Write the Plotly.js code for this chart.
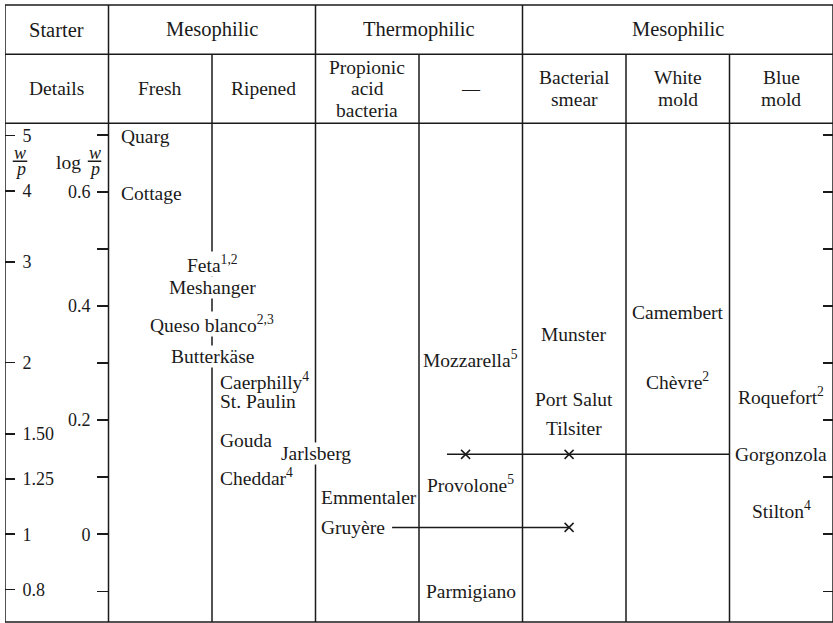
<!DOCTYPE html>
<html><head><meta charset="utf-8">
<script src="https://cdn.plot.ly/plotly-3.0.1.min.js"></script>
<style>html,body{margin:0;padding:0;background:#fff}</style>
</head><body><div id="chart" style="width:833px;height:623px"></div>
<script>
// ---------- data ----------
const starterLabels = ["Starter", "Mesophilic", "Thermophilic", "Mesophilic"];
const starterFirstCol = [0, 1, 3, 5];
const starterLastCol = [0, 2, 4, 7];
const detailLabels = ["Details", "Fresh", "Ripened", "Propionic<br>acid<br>bacteria", "—",
                      "Bacterial<br>smear", "White<br>mold", "Blue<br>mold"];
const cheeseNames = ["Quarg", "Cottage", "Feta<sup>1,2</sup>", "Meshanger", "Queso blanco<sup>2,3</sup>",
  "Butterkäse", "Caerphilly<sup>4</sup>", "St. Paulin", "Gouda", "Jarlsberg", "Cheddar<sup>4</sup>",
  "Emmentaler", "Gruyère", "Mozzarella<sup>5</sup>", "Provolone<sup>5</sup>", "Parmigiano",
  "Munster", "Port Salut", "Tilsiter", "Camembert", "Chèvre<sup>2</sup>", "Roquefort<sup>2</sup>",
  "Gorgonzola", "Stilton<sup>4</sup>"];
// column index (x.5 = on the border between two columns)
const cheeseColumn = [1, 1, 1.5, 1.5, 1.5, 1.5, 2, 2, 2, 2.5, 2, 3, 3, 4, 4, 4, 5, 5, 5, 6, 6, 7, 7, 7];
const cheeseLogWP = [0.698, 0.598, 0.474, 0.432, 0.368, 0.311, 0.268, 0.232, 0.165, 0.142, 0.100,
  0.065, 0.012, 0.307, 0.088, -0.100, 0.351, 0.237, 0.186, 0.389, 0.268, 0.242, 0.140, 0.042];
const wpTickValues = [5, 4, 3, 2, 1.5, 1.25, 1, 0.8];
const wpTickLabels = ["5", "4", "3", "2", "1.50", "1.25", "1", "0.8"];
const logTickValues = [0.7, 0.6, 0.5, 0.4, 0.3, 0.2, 0.1, 0, -0.1];
const logTickLabels = ["", "0.6", "", "0.4", "", "0.2", "", "0", ""];
const linkCheese = ["Gruyère", "Gorgonzola"];
const linkLogWP = [0.012, 0.140];
const linkMarkerCols = [[5], [4, 5]];
const linkLabelCol = [3, 7];

// ---------- style ----------
const FONT = "Liberation Serif";
const FS = 19.5;
const FS_HEAD = 20.5;
const FS_TICK = 18;
const INK = "#1a1a1a";
const LW = 1.5;
const PLOT_TOP = 0.8083;   // paper y of top of the plot area
const ROW1_BOTTOM = 0.9201;
const LINE_GAP = 21.7;     // px between stacked header lines

const shapes = [];
const line = (x0, y0, x1, y1, xref, yref) => shapes.push({type: "line", x0, y0, x1, y1, xref, yref,
  line: {color: INK, width: LW}});
// outer frame and header rows
line(0, 1, 8, 1, "x", "paper");
line(0, 0, 8, 0, "x", "paper");
line(0, 0, 0, 1, "x", "paper");
line(8, 0, 8, 1, "x", "paper");
line(0, ROW1_BOTTOM, 8, ROW1_BOTTOM, "x", "paper");
line(0, PLOT_TOP, 8, PLOT_TOP, "x", "paper");
for (let c = 1; c < 8; c++) {
  const full = starterFirstCol.includes(c);
  line(c, 0, c, full ? 1 : ROW1_BOTTOM, "x", "paper");
}

const annotations = [];
const txt = (o) => annotations.push(Object.assign({showarrow: false, yanchor: "middle",
  font: {family: FONT, size: FS, color: INK}, borderpad: 0}, o));

starterLabels.forEach((s, i) => txt({text: s, xref: "x", yref: "paper", xanchor: "center",
  x: (starterFirstCol[i] + starterLastCol[i] + 1) / 2, y: 0.9595,
  font: {family: FONT, size: FS_HEAD, color: INK}}));
detailLabels.forEach((s, i) => {
  const parts = s.split("<br>");
  parts.forEach((p, k) => txt({text: p, xref: "x", yref: "paper", xanchor: "center", x: i + 0.5, y: 0.8643,
    yshift: ((parts.length - 1) / 2 - k) * LINE_GAP,
    font: {family: FONT, size: p === "—" ? 18 : FS, color: INK}}));
});

const leftPad = {1: 11, 2: 7, 3: 4};
cheeseNames.forEach((name, i) => {
  const c = cheeseColumn[i];
  const o = {text: name, xref: "x", yref: "y", y: cheeseLogWP[i]};
  if (c % 1 !== 0) { o.x = c + 0.5; o.xanchor = "center"; o.bgcolor = "white"; }
  else if (c >= 1 && c <= 3) { o.x = c; o.xanchor = "left"; o.xshift = leftPad[c]; }
  else { o.x = c + 0.5; o.xanchor = "center"; }
  txt(o);
});

// axis captions: w/p and log w/p
const FRAC = {family: FONT, size: 18, color: INK};
const frac = (xc, halfW) => {
  txt({text: "<i>w</i>", xref: "x", yref: "y", xanchor: "center", x: xc, y: 0.669, font: FRAC});
  txt({text: "<i>p</i>", xref: "x", yref: "y", xanchor: "center", x: xc, y: 0.641, font: FRAC});
  line(xc - halfW, 0.654, xc + halfW, 0.654, "x", "y");
};
frac(0.145, 0.07);
txt({text: "log", xref: "x", yref: "y", xanchor: "center", x: 0.61, y: 0.651});
frac(0.865, 0.065);

// link lines with crosses
const traces = [];
linkCheese.forEach((name, i) => {
  const mx = linkMarkerCols[i].map(c => c + 0.45);
  const y = linkLogWP[i];
  let x0, x1;
  if (linkLabelCol[i] > Math.max(...linkMarkerCols[i])) { x0 = Math.min(...mx) - 0.18; x1 = linkLabelCol[i]; }
  else { x0 = linkLabelCol[i] + 0.74; x1 = Math.max(...mx); }
  traces.push({x: [x0, x1], y: [y, y], mode: "lines", line: {color: INK, width: LW},
    hoverinfo: "skip", showlegend: false, cliponaxis: false});
  traces.push({x: mx, y: mx.map(() => y), mode: "markers", showlegend: false, cliponaxis: false,
    marker: {symbol: "x-thin", size: 9, line: {color: INK, width: LW}, color: INK}});
});

const yBase = {range: [-0.1539, 0.7205], showgrid: false, zeroline: false, showline: false,
  tickcolor: INK, tickwidth: LW, tickfont: {family: FONT, size: FS_TICK, color: INK}};

const layout = {
  width: 833, height: 623,
  margin: {l: 5, r: 0, t: 5, b: 1},
  font: {family: FONT, size: FS, color: INK},
  paper_bgcolor: "white", plot_bgcolor: "white",
  showlegend: false,
  xaxis: {range: [0, 8], visible: false, fixedrange: true},
  yaxis: Object.assign({}, yBase, {domain: [0, PLOT_TOP], anchor: "x", side: "left",
    tickmode: "array", tickvals: wpTickValues.map(Math.log10), ticktext: wpTickLabels,
    ticks: "inside", ticklen: 10, ticklabelposition: "inside", ticklabelstandoff: 8}),
  yaxis2: Object.assign({}, yBase, {overlaying: "y", anchor: "free", position: 0.1244, side: "left",
    tickmode: "array", tickvals: logTickValues, ticktext: logTickLabels, ticks: "outside", ticklen: 11,
    ticklabelstandoff: 3}),
  yaxis3: Object.assign({}, yBase, {overlaying: "y", anchor: "free", position: 1, side: "right",
    tickmode: "array", tickvals: logTickValues, ticks: "inside", ticklen: 10, showticklabels: false}),
  shapes, annotations
};
// invisible points to activate the overlaying axes
traces.push({x: [0], y: [0], yaxis: "y2", mode: "markers", marker: {opacity: 0}, hoverinfo: "skip", showlegend: false});
traces.push({x: [0], y: [0], yaxis: "y3", mode: "markers", marker: {opacity: 0}, hoverinfo: "skip", showlegend: false});

Plotly.newPlot("chart", traces, layout, {staticPlot: true, displayModeBar: false});
</script></body></html>
